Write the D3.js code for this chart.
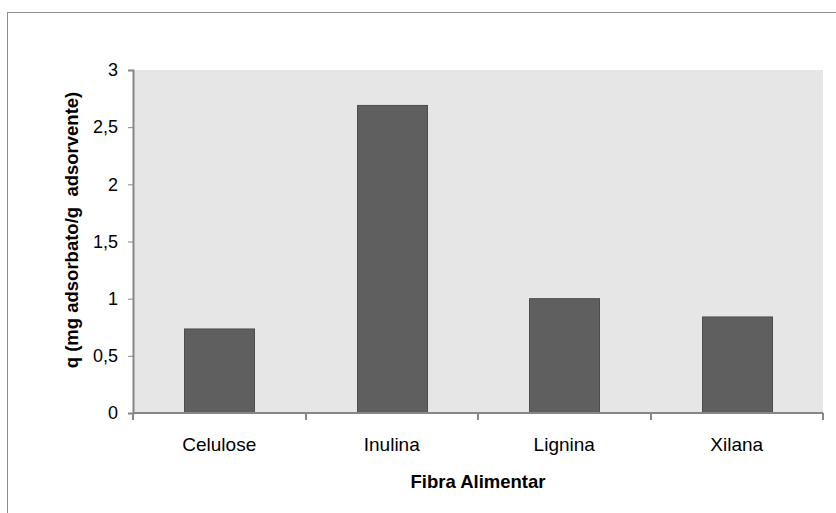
<!DOCTYPE html>
<html>
<head>
<meta charset="utf-8">
<script src="https://cdn.jsdelivr.net/npm/d3@7"></script>
<style>
  html, body { margin: 0; padding: 0; background: #fff; }
  svg { display: block; }
  text { font-family: "Liberation Sans", Arial, sans-serif; }
</style>
</head>
<body>
<svg id="chart" width="836" height="513"></svg>
<script>
// Adsorption capacity per dietary fibre
const categories = ["Celulose", "Inulina", "Lignina", "Xilana"];
const values = [0.735, 2.69, 1.0, 0.84];
const yTicks = [0, 0.5, 1, 1.5, 2, 2.5, 3];
const xTitle = "Fibra Alimentar";
const yTitle = "q (mg adsorbato/g  adsorvente)";

const svg = d3.select("#chart");
const plot = { left: 133, right: 823, top: 70, bottom: 413 };
const axisColor = "#868686";

// outer chart frame (runs past the right and bottom edges)
svg.append("rect")
  .attr("x", 7.5).attr("y", 12.5)
  .attr("width", 900).attr("height", 600)
  .attr("fill", "#fff")
  .attr("stroke", "#8c8c8c")
  .attr("stroke-width", 1);

const y = d3.scaleLinear().domain([0, 3]).range([plot.bottom, plot.top]);
const xCat = d3.scaleBand().domain(categories).range([plot.left, plot.right]).padding(0);
const xBar = d3.scaleBand().domain(categories).range([plot.left, plot.right])
  .paddingInner(0.594).paddingOuter(0.297);

// plot background
svg.append("rect")
  .attr("x", plot.left).attr("y", plot.top)
  .attr("width", plot.right - plot.left).attr("height", plot.bottom - plot.top)
  .attr("fill", "#e6e6e6");

// bars
svg.append("g").selectAll("rect")
  .data(categories.map((c, i) => ({ c, v: values[i] })))
  .join("rect")
  .attr("x", d => Math.round(xBar(d.c)) + 0.5)
  .attr("y", d => y(d.v))
  .attr("width", Math.round(xBar.bandwidth()))
  .attr("height", d => plot.bottom - y(d.v))
  .attr("fill", "#5f5f5f")
  .attr("stroke", "#4d4d4d")
  .attr("stroke-width", 1);

// y axis
const fmt = v => String(v).replace(".", ",");
const yAxis = svg.append("g")
  .attr("transform", `translate(${plot.left},0)`)
  .call(d3.axisLeft(y).tickValues(yTicks).tickFormat(fmt).tickSize(5).tickPadding(10));
yAxis.select(".domain").attr("stroke", axisColor).attr("stroke-width", 2);
yAxis.selectAll(".tick line").attr("stroke", axisColor);
yAxis.selectAll(".tick text")
  .attr("fill", "#000").attr("font-size", 18)
  .attr("font-family", "Liberation Sans, Arial, sans-serif");

// x axis baseline with ticks at the category boundaries
const xg = svg.append("g");
xg.append("line")
  .attr("x1", plot.left).attr("x2", plot.right)
  .attr("y1", plot.bottom).attr("y2", plot.bottom)
  .attr("stroke", axisColor).attr("stroke-width", 2);
const bounds = categories.map(c => xCat(c)).concat([xCat(categories[categories.length - 1]) + xCat.bandwidth()]);
xg.selectAll("line.tk")
  .data(bounds)
  .join("line")
  .attr("class", "tk")
  .attr("x1", d => Math.round(d)).attr("x2", d => Math.round(d))
  .attr("y1", plot.bottom).attr("y2", plot.bottom + 7)
  .attr("stroke", axisColor).attr("stroke-width", 2);
xg.selectAll("text")
  .data(categories)
  .join("text")
  .attr("x", d => xCat(d) + xCat.bandwidth() / 2)
  .attr("y", 451)
  .attr("text-anchor", "middle")
  .attr("font-size", 19)
  .attr("fill", "#000")
  .text(d => d);

// axis titles
svg.append("text")
  .attr("x", (plot.left + plot.right) / 2)
  .attr("y", 488)
  .attr("text-anchor", "middle")
  .attr("font-size", 18.5)
  .attr("font-weight", "bold")
  .text(xTitle);

svg.append("text")
  .attr("transform", `translate(78,230) rotate(-90)`)
  .attr("text-anchor", "middle")
  .attr("font-size", 18.5)
  .attr("font-weight", "bold")
  .style("white-space", "pre")
  .text(yTitle);
</script>
</body>
</html>
